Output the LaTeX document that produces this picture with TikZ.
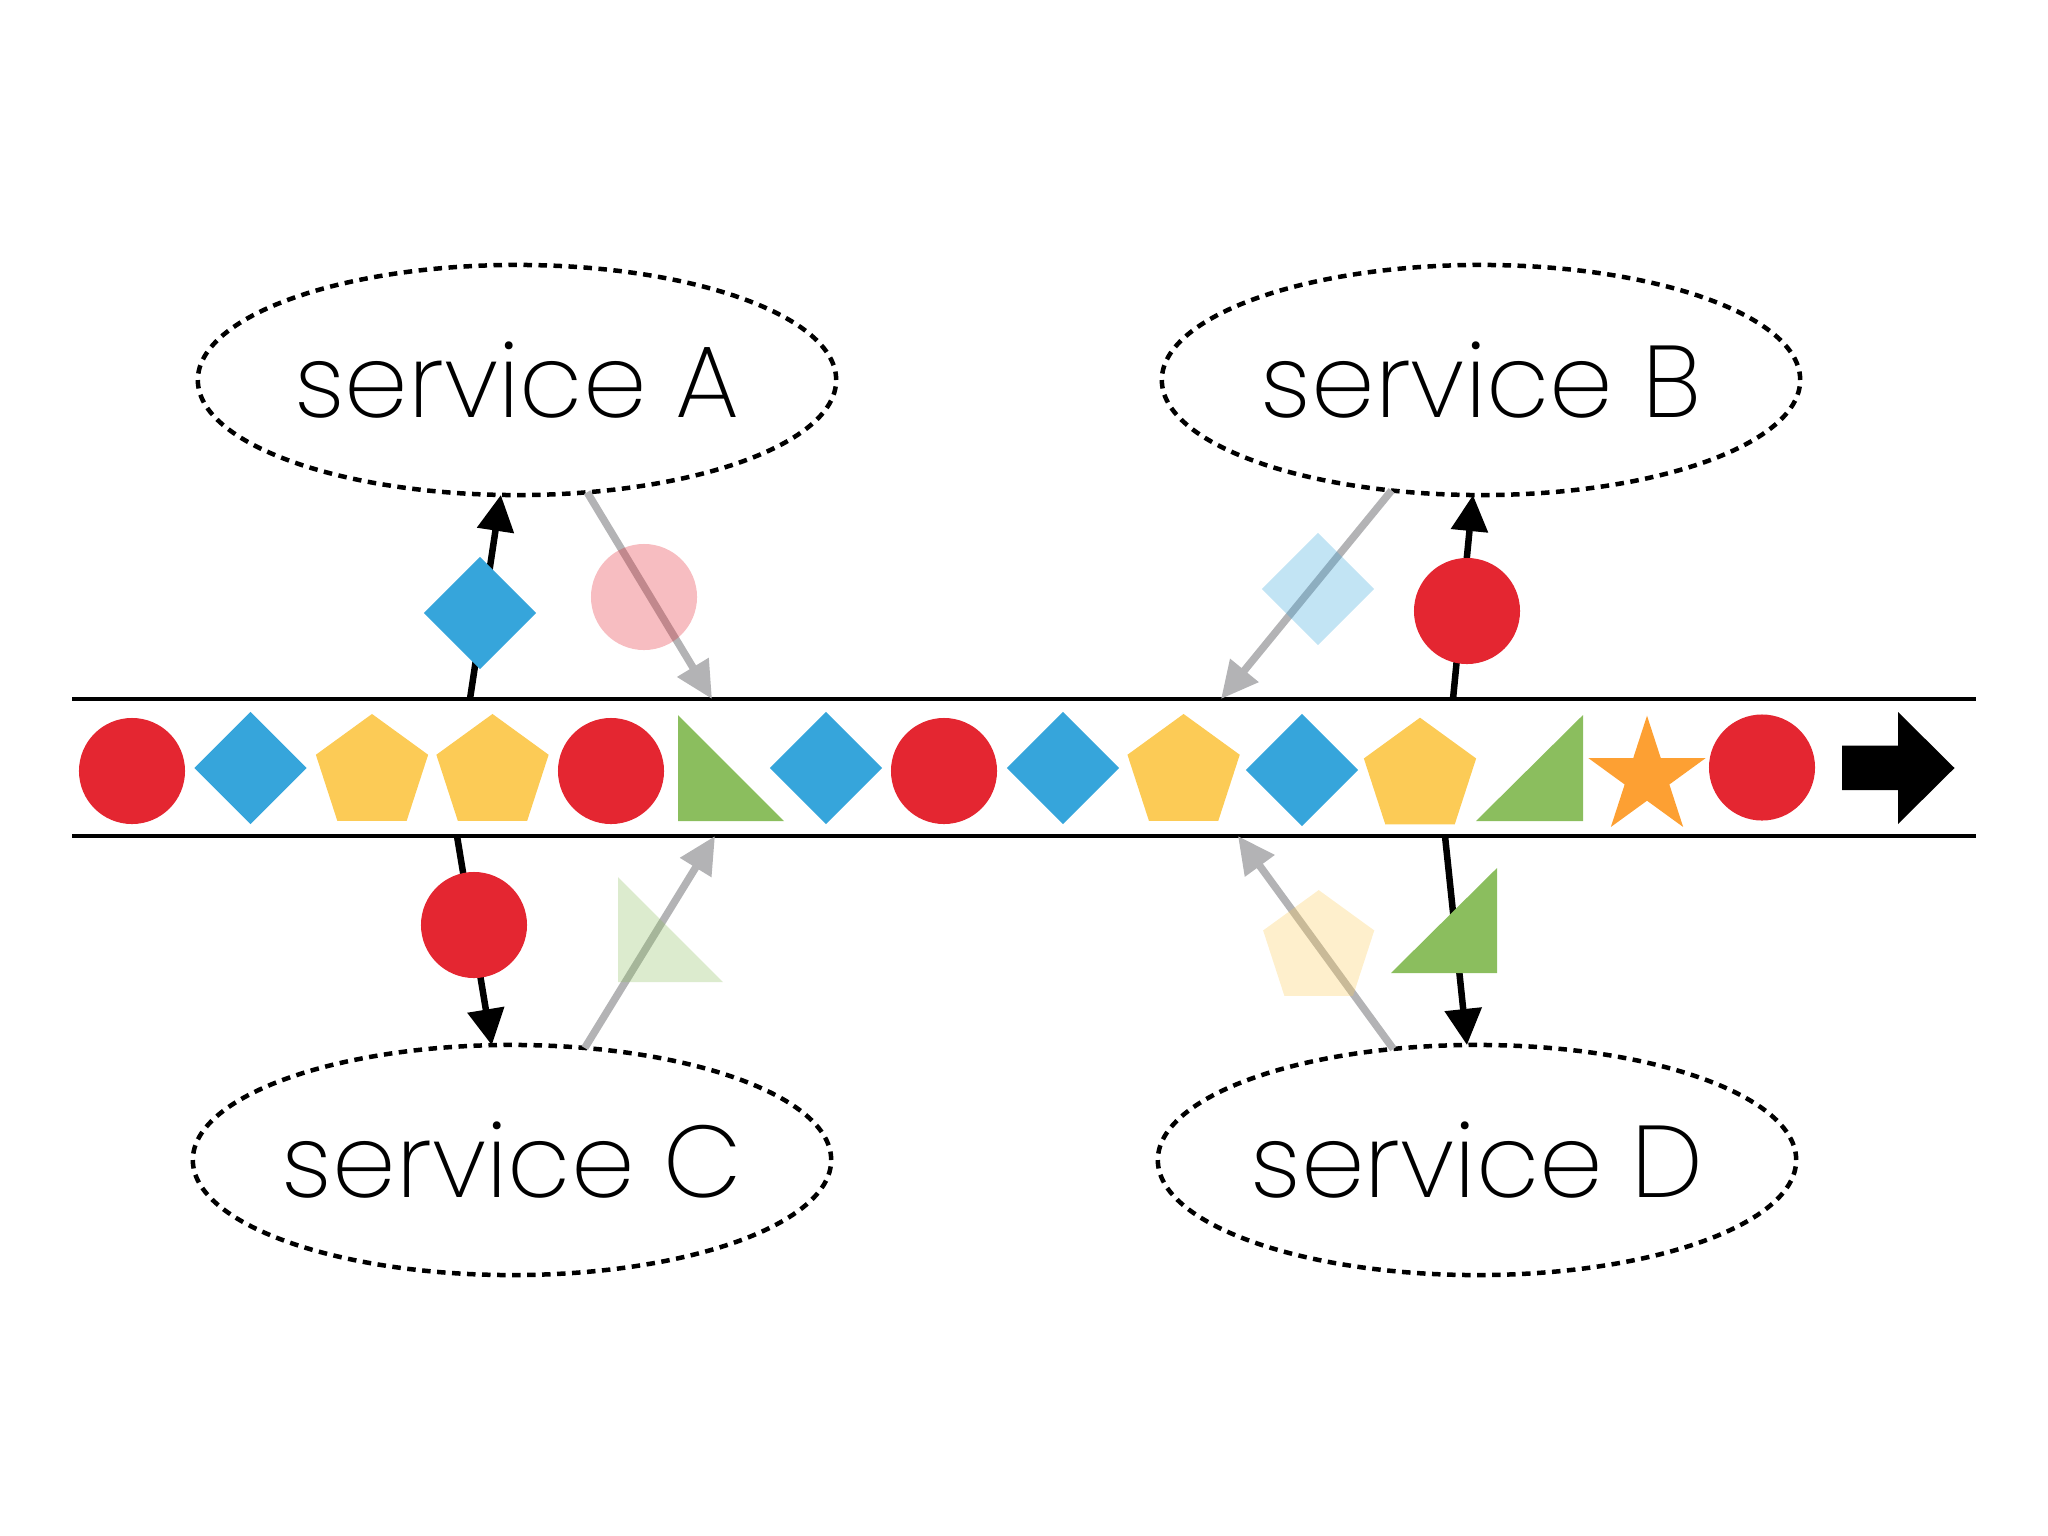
\documentclass[tikz,border=0pt]{standalone}
\usepackage{fontspec}
\newfontfamily\svcfont{Poppins ExtraLight}
\usetikzlibrary{shapes.geometric,arrows.meta}
\definecolor{cred}{HTML}{E42631}
\definecolor{cblue}{HTML}{36A5DB}
\definecolor{cyel}{HTML}{FCCB56}
\definecolor{cgreen}{HTML}{8BBE5E}
\definecolor{corange}{HTML}{FDA033}
\definecolor{cgray}{HTML}{B3B3B5}
\begin{document}
\begin{tikzpicture}[x=0.01cm,y=-0.01cm,
 svc/.style={ellipse,draw,line width=0.045cm,dash pattern=on 0.085cm off 0.065cm,
   minimum width=6.38cm,minimum height=2.3cm,inner sep=0,outer sep=0,
   label={[svctext]center:#1}},
 svctext/.style={inner sep=0,outer sep=0,font=\svcfont\fontsize{29pt}{31pt}\selectfont},
 ball/.style={circle,fill=cred,minimum size=1.06cm,inner sep=0,outer sep=0},
 dia/.style={diamond,fill=cblue,minimum width=1.12cm,minimum height=1.12cm,aspect=1,inner sep=0,outer sep=0},
 pent/.style={regular polygon,regular polygon sides=5,fill=cyel,minimum size=1.18cm,inner sep=0,outer sep=0},
 starshape/.style={star,star points=5,star point ratio=2.618,fill=corange,minimum size=1.23cm,inner sep=0,outer sep=0},
 ghost/.style={opacity=0.3},
 flow/.style={line width=0.065cm,-{Triangle[length=0.36cm,width=0.36cm]}},
 back/.style={cgray,line width=0.075cm,-{Triangle[length=0.37cm,width=0.35cm]}},
 rail/.style={line width=0.038cm}
]
\useasboundingbox (0,0) rectangle (2048,1536);

% services
\node[svc={service A}] (A) at (517,380) {};
\node[svc={service B}] (B) at (1481,380) {};
\node[svc={service C}] (C) at (512,1160) {};
\node[svc={service D}] (D) at (1477,1160) {};

% rails
\coordinate (r1) at (72,699);  \coordinate (r2) at (1976,699);
\coordinate (r3) at (72,836);  \coordinate (r4) at (1976,836);
\draw[rail] (r1) -- (r2);
\draw[rail] (r3) -- (r4);

% events in the stream
\node[ball] (e1) at (132,771) {};
\node[dia]  (e2) at (250.5,768) {};
\node[pent] (e3) at (372,773) {};
\node[pent] (e4) at (492.5,773) {};
\node[ball] (e5) at (611,771) {};
\fill[cgreen] (678,715) -- (678,821) -- (784,821) -- cycle;
\node[dia]  (e7) at (826,768) {};
\node[ball] (e8) at (944,771) {};
\node[dia]  (e9) at (1063,768) {};
\node[pent] (e10) at (1183.6,773) {};
\node[dia]  (e11) at (1302,770) {};
\node[pent] (e12) at (1420,776.7) {};
\fill[cgreen] (1583,715) -- (1583,821) -- (1476,821) -- cycle;
\node[starshape] (e14) at (1647,777.2) {};
\node[ball] (e15) at (1762,767.5) {};
\fill (1842,745.7) -- (1898,745.7) -- (1898,712) -- (1954.5,768) -- (1898,824) -- (1898,790) -- (1842,790) -- cycle;

% connection points on the rails
\coordinate (pa) at (470,699);
\coordinate (qa) at (712,699);
\coordinate (qb) at (1221,699);
\coordinate (pb) at (1453,699);
\coordinate (pc) at (457,836);
\coordinate (qc) at (715,836);
\coordinate (qd) at (1238,836);
\coordinate (pd) at (1445,836);

% gray (produced) arrows
\draw[back] (A.302) -- (qa);
\draw[back] (B.231) -- (qb);
\draw[back] (C.57) -- (qc);
\draw[back] (D.127) -- (qd);

% ghost events
\node[ball,ghost] (ga) at (644,597) {};
\node[dia,ghost] (gb) at (1318,589) {};
\fill[cgreen,ghost] (618,877) -- (618,982) -- (723,982) -- cycle;
\node[pent,ghost,minimum size=1.168cm] (gd) at (1318.7,948.5) {};

% black (consumed) arrows
\draw[flow] (pa) -- (A.262);
\draw[flow] (pb) -- (B.266);
\draw[flow] (pc) -- (C.100);
\draw[flow] (pd) -- (D.95);

% consumed events
\node[dia]  (ca) at (480,613) {};
\node[ball] (cb) at (1467,611) {};
\node[ball] (cc) at (474,925) {};
\fill[cgreen] (1497,868) -- (1497,973) -- (1391,973) -- cycle;
\end{tikzpicture}
\end{document}
